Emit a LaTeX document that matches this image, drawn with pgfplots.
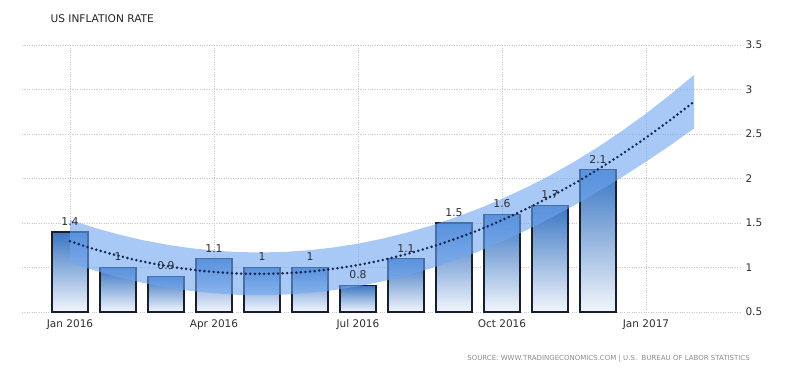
\documentclass[border=0pt]{standalone}
\usepackage{pgfplots}
\pgfplotsset{compat=1.18}
\usepackage{fontspec}
\setmainfont{DejaVu Sans}
\definecolor{barTop}{RGB}{58,118,195}
\definecolor{barBot}{RGB}{243,246,252}
\definecolor{barEdge}{RGB}{22,30,48}
\definecolor{bandBlue}{RGB}{110,165,240}
\definecolor{trendCol}{RGB}{20,38,85}
\definecolor{labCol}{RGB}{45,45,55}
\definecolor{srcCol}{RGB}{140,140,140}
\pgfplotsset{mybar/.style={draw=barEdge, line width=1.2pt, top color=barTop, bottom color=barBot}}
\begin{document}
\begin{tikzpicture}
\begin{axis}[
  at={(0,0)}, anchor=south west,
  width=720pt, height=267pt, scale only axis,
  xmin=-1, xmax=14, ymin=0.5, ymax=3.5,
  xtick={0,3,6,9,12},
  xticklabels={Jan 2016,Apr 2016,Jul 2016,Oct 2016,Jan 2017},
  ytick={0.5,1,1.5,2,2.5,3,3.5},
  yticklabel pos=right,
  axis line style={draw=none},
  major tick length=0pt,
  grid=major,
  major grid style={gray!45, dotted, line width=0.6pt},
  tick label style={font=\fontsize{10.5}{12}\selectfont, text=labCol},
  xticklabel style={yshift=-4pt},
  /pgf/number format/assume math mode=true,
]
\foreach \x/\v in {0/1.4,1/1.0,2/0.9,3/1.1,4/1.0,5/1.0,6/0.8,7/1.1,8/1.5,9/1.6,10/1.7,11/2.1}{
  \pgfmathsetmacro\xl{\x-0.375}
  \pgfmathsetmacro\xr{\x+0.375}
  \edef\temp{\noexpand\addplot[mybar] coordinates {(\xl,0.5) (\xl,\v) (\xr,\v) (\xr,0.5)} --cycle;}
  \temp
}
\addplot[draw=none, mark=none, nodes near coords,
  nodes near coords style={font=\fontsize{10.8}{12}\selectfont, text=labCol, yshift=3pt}]
  coordinates {(0,1.4) (1,1.0) (2,0.9) (3,1.1) (4,1.0) (5,1.0) (6,0.8) (7,1.1) (8,1.5) (9,1.6) (10,1.7) (11,2.1)};
% confidence band (upper edge forward, lower edge backward)
\addplot[fill=bandBlue, fill opacity=0.6, draw=none] coordinates {
  (0,1.535) (0.5,1.448) (1,1.373) (1.5,1.309) (2,1.258) (2.5,1.218) (3,1.190) (3.5,1.173)
  (4,1.169) (4.5,1.176) (5,1.195) (5.5,1.226) (6,1.268) (6.5,1.323) (7,1.389) (7.5,1.467)
  (8,1.557) (8.5,1.658) (9,1.772) (9.5,1.897) (10,2.034) (10.5,2.187) (11,2.353) (11.5,2.535)
  (12,2.729) (12.5,2.940) (13,3.163)
  (13,2.563) (12.5,2.370) (12,2.189) (11.5,2.015) (11,1.853) (10.5,1.697) (10,1.554) (9.5,1.417)
  (9,1.292) (8.5,1.178) (8,1.077) (7.5,0.987) (7,0.909) (6.5,0.843) (6,0.788) (5.5,0.746)
  (5,0.715) (4.5,0.696) (4,0.689) (3.5,0.693) (3,0.710) (2.5,0.738) (2,0.778) (1.5,0.829)
  (1,0.893) (0.5,0.968) (0,1.055)} --cycle;
\addplot[trendCol, line width=2.8pt, smooth, dash pattern=on 0pt off 4.6pt, line cap=round] coordinates {
  (0,1.295) (0.5,1.208) (1,1.133) (1.5,1.069) (2,1.018) (2.5,0.978) (3,0.950) (3.5,0.933)
  (4,0.929) (4.5,0.936) (5,0.955) (5.5,0.986) (6,1.028) (6.5,1.083) (7,1.149) (7.5,1.227)
  (8,1.317) (8.5,1.418) (9,1.532) (9.5,1.657) (10,1.794) (10.5,1.942) (11,2.103) (11.5,2.275)
  (12,2.459) (12.5,2.655) (13,2.863)};
\end{axis}
\node[anchor=base west, font=\fontsize{10.6}{12}\selectfont, text=black!85] at (25pt,290pt) {US INFLATION RATE};
\node[anchor=base east, font=\fontsize{7}{8}\selectfont, text=srcCol, inner sep=0pt] at (728pt,-48pt) {SOURCE: WWW.TRADINGECONOMICS.COM \textbar\ U.S.\ \ BUREAU OF LABOR STATISTICS};
\pgfresetboundingbox
\path[use as bounding box] (-22pt,-61pt) rectangle (778pt,312pt);
\end{tikzpicture}
\end{document}
